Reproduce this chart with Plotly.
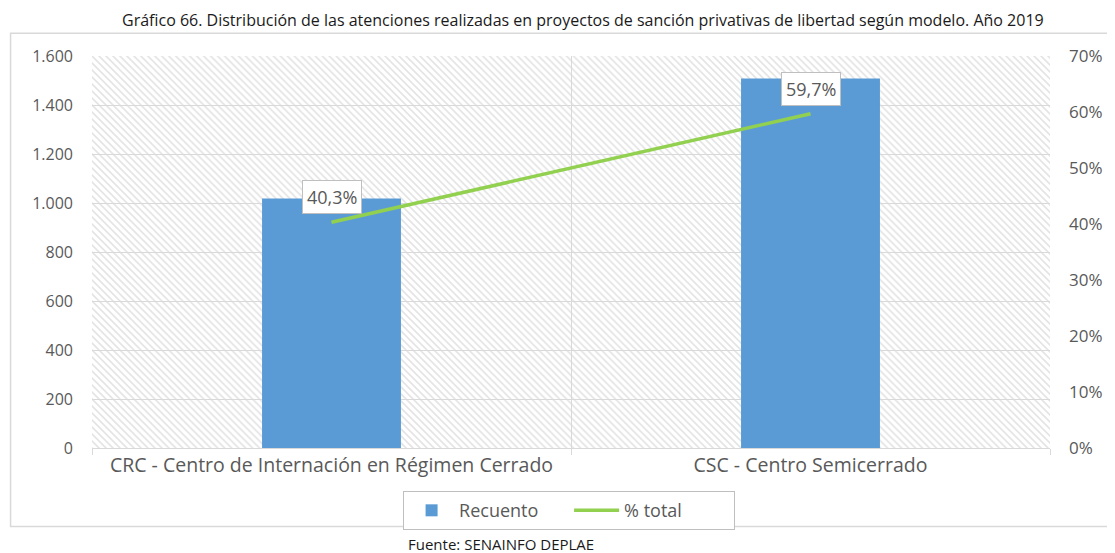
import base64
import plotly.graph_objects as go

# datos
modelos = [
    "CRC - Centro de Internación en Régimen Cerrado",
    "CSC - Centro Semicerrado",
]
recuento = [1018, 1508]
pct_total = [40.3, 59.7]

azul = "#5B9BD5"
verde = "#92D050"
gris_txt = "#595959"
FONT = "Open Sans, Arial, sans-serif"

# fondo rayado del área de trazado (patrón SVG)
svg = (
    '<svg xmlns="http://www.w3.org/2000/svg" width="961" height="392">'
    '<defs><pattern id="p" width="7" height="7" patternUnits="userSpaceOnUse">'
    '<path d="M0,0 L7,7 M-1,6 L1,8 M6,-1 L8,1" stroke="#e4e4e4" stroke-width="1.6"/>'
    '</pattern></defs><rect width="961" height="392" fill="url(#p)"/></svg>'
)
hatch = "data:image/svg+xml;base64," + base64.b64encode(svg.encode()).decode()

fig = go.Figure()
fig.add_trace(go.Bar(
    x=modelos, y=recuento, name="Recuento",
    marker=dict(color=azul, line=dict(width=0)),
    width=0.29,
))
fig.add_trace(go.Scatter(
    x=modelos, y=pct_total, name="% total", yaxis="y2",
    mode="lines", line=dict(color=verde, width=3.5),
))

for m, p in zip(modelos, pct_total):
    fig.add_annotation(
        x=m, y=p, yref="y2", yshift=25,
        text=f"{p:.1f}%".replace(".", ","), showarrow=False,
        font=dict(family=FONT, size=18, color=gris_txt),
        bgcolor="white", bordercolor="#bfbfbf", borderwidth=1, borderpad=4,
    )

fig.add_annotation(
    text="Gráfico 66. Distribución de las atenciones realizadas en proyectos de sanción privativas de libertad según modelo. Año 2019",
    xref="paper", yref="paper", x=0.513, y=1.091, yanchor="middle", showarrow=False,
    font=dict(family=FONT, size=16, color="#1a1a1a"),
)
fig.add_annotation(
    text="Fuente: SENAINFO DEPLAE",
    xref="paper", yref="paper", x=0.427, y=-0.245, yanchor="middle", showarrow=False,
    font=dict(family=FONT, size=15, color="#1a1a1a"),
)

# marco exterior del gráfico
fig.add_shape(
    type="rect", xref="paper", yref="paper",
    x0=-0.085, x1=1.062, y0=-0.2, y1=1.058,
    line=dict(color="#d9d9d9", width=1.5), layer="below",
)

fig.add_layout_image(
    source=hatch, xref="paper", yref="paper", x=0, y=1, sizex=1, sizey=1,
    sizing="stretch", xanchor="left", yanchor="top", layer="below",
)

# la página tiene 8 px de margen: el lienzo se reduce y se desplaza
fig.update_layout(
    width=1107, height=545,
    margin=dict(l=84, r=62, t=48, b=105),
    paper_bgcolor="white", plot_bgcolor="rgba(0,0,0,0)",
    font=dict(family=FONT, color=gris_txt),
    showlegend=True,
    legend=dict(
        orientation="h", x=0.498, xanchor="center", y=-0.11, yanchor="top",
        bordercolor="#bfbfbf", borderwidth=1,
        font=dict(family=FONT, size=18, color=gris_txt),
        entrywidth=105, itemwidth=45,
    ),
    xaxis=dict(
        tickson="boundaries", showgrid=True, gridcolor="#d9d9d9", gridwidth=1,
        ticks="outside", ticklen=6, tickcolor="#d9d9d9",
        showline=True, linecolor="#d9d9d9",
        tickfont=dict(family=FONT, size=19.5, color=gris_txt),
    ),
    yaxis=dict(
        range=[0, 1600], dtick=200, tickformat=",d",
        showgrid=True, gridcolor="#d9d9d9", zeroline=False,
        ticklabelstandoff=18,
        tickfont=dict(family=FONT, size=16, color=gris_txt),
    ),
    yaxis2=dict(
        range=[0, 70], dtick=10, ticksuffix="%", overlaying="y", side="right",
        showgrid=False, zeroline=False, ticklabelstandoff=18,
        tickfont=dict(family=FONT, size=17, color=gris_txt),
    ),
    separators=",.",
)

fig.write_html("out.html")
